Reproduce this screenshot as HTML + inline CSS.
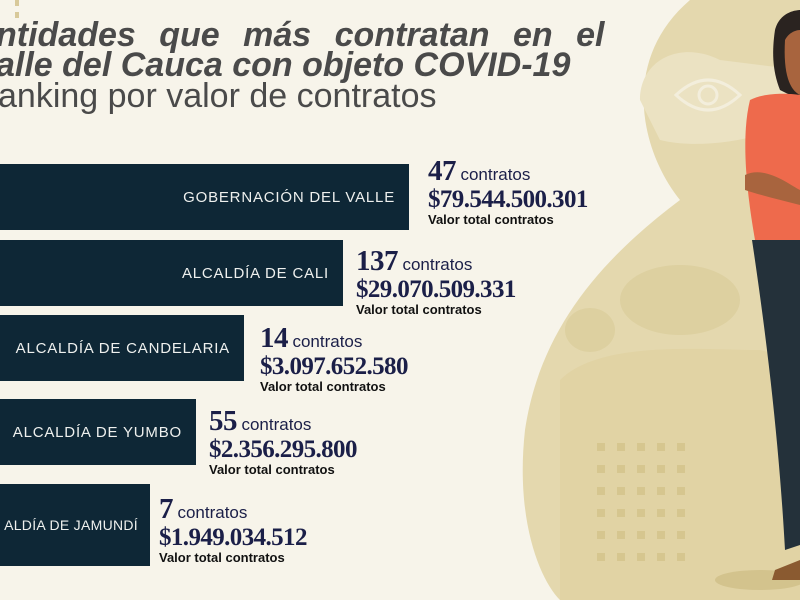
<!DOCTYPE html>
<html><head><meta charset="utf-8"><style>
body{margin:0;width:800px;height:600px;overflow:hidden;background:#f7f4ea;position:relative;font-family:"Liberation Sans",sans-serif}
.abs{position:absolute}
.bar{position:absolute;left:0;background:#0e2736;color:#eef0ee;font-size:15px;letter-spacing:0.8px;display:flex;align-items:center;justify-content:flex-end;padding-right:14px;box-sizing:border-box;white-space:nowrap}
.info{position:absolute;color:#1b1f48;line-height:1}
.n{font-family:"Liberation Serif",serif;font-weight:bold;font-size:29px;letter-spacing:-0.5px}
.c{font-size:17px;font-family:"Liberation Sans",sans-serif;font-weight:normal}
.v{font-family:"Liberation Serif",serif;font-weight:bold;font-size:25px;margin-top:1px;letter-spacing:-0.6px}
.t{font-size:13px;font-weight:bold;color:#111;margin-top:1px}
.title{position:absolute;left:-4px;color:#4a4a4a;font-style:italic;font-weight:bold;font-size:34px;white-space:nowrap;line-height:1}
</style></head><body>
<svg class="abs" style="left:0;top:0" width="800" height="600">
<path d="M690 0 C620 60 640 150 680 200 C600 260 540 330 525 430 C515 520 540 580 560 600 L800 600 L800 0 Z" fill="#e4d8ae"/>
<path d="M640 100 C640 60 680 40 720 60 L800 70 L800 120 C760 140 700 150 660 140 Z" fill="#ebe2c2"/>
<ellipse cx="680" cy="300" rx="60" ry="35" fill="#ddd0a0"/>
<ellipse cx="590" cy="330" rx="25" ry="22" fill="#ddd0a0"/>
<path d="M560 380 C600 340 700 350 760 350 L800 360 L800 600 L560 600 Z" fill="#e1d3a4"/>
<g fill="#d6c68f">
<rect x="597" y="443" width="8" height="8"/><rect x="617" y="443" width="8" height="8"/><rect x="637" y="443" width="8" height="8"/><rect x="657" y="443" width="8" height="8"/><rect x="677" y="443" width="8" height="8"/>
<rect x="597" y="465" width="8" height="8"/><rect x="617" y="465" width="8" height="8"/><rect x="637" y="465" width="8" height="8"/><rect x="657" y="465" width="8" height="8"/><rect x="677" y="465" width="8" height="8"/>
<rect x="597" y="487" width="8" height="8"/><rect x="617" y="487" width="8" height="8"/><rect x="637" y="487" width="8" height="8"/><rect x="657" y="487" width="8" height="8"/><rect x="677" y="487" width="8" height="8"/>
<rect x="597" y="509" width="8" height="8"/><rect x="617" y="509" width="8" height="8"/><rect x="637" y="509" width="8" height="8"/><rect x="657" y="509" width="8" height="8"/><rect x="677" y="509" width="8" height="8"/>
<rect x="597" y="531" width="8" height="8"/><rect x="617" y="531" width="8" height="8"/><rect x="637" y="531" width="8" height="8"/><rect x="657" y="531" width="8" height="8"/><rect x="677" y="531" width="8" height="8"/>
<rect x="597" y="553" width="8" height="8"/><rect x="617" y="553" width="8" height="8"/><rect x="637" y="553" width="8" height="8"/><rect x="657" y="553" width="8" height="8"/><rect x="677" y="553" width="8" height="8"/>
</g>
<ellipse cx="760" cy="580" rx="45" ry="10" fill="#d3c38d"/>
<g fill="none" stroke="#f3eedc" stroke-width="3"><path d="M676 95 Q708 65 740 95 Q708 125 676 95Z"/><circle cx="708" cy="95" r="9"/></g>
<path d="M775 30 C780 10 800 10 800 10 L800 100 L780 90 C772 70 772 50 775 30Z" fill="#2a2320"/>
<path d="M785 40 C790 30 800 30 800 30 L800 95 C790 90 783 75 785 40Z" fill="#a8643e"/>
<path d="M750 100 C770 90 800 95 800 95 L800 240 L755 240 C748 200 740 140 750 100Z" fill="#ee6a4c"/>
<path d="M745 175 C765 165 790 185 800 190 L800 205 C780 200 760 195 745 190Z" fill="#a8643e"/>
<path d="M752 240 L800 240 L800 545 L785 550 C780 460 770 360 752 240Z" fill="#24313a"/>
<path d="M775 570 L800 560 L800 580 L772 580Z" fill="#8a5a30"/>
<rect x="15" y="0" width="4" height="6" fill="#d8c99a"/><rect x="15" y="12" width="4" height="6" fill="#d8c99a"/>
</svg>
<div class="title" style="top:18px;word-spacing:14px">ntidades que más contratan en el</div>
<div class="title" style="top:48px">alle del Cauca con objeto COVID-19</div>
<div class="abs" style="left:-2px;top:79px;color:#4a4a4a;font-size:34px;white-space:nowrap;line-height:1">anking por valor de contratos</div>

<div class="bar" style="top:164px;width:409px;height:66px">GOBERNACIÓN DEL VALLE</div>
<div class="info" style="left:428px;top:157px"><span class="n">47</span> <span class="c">contratos</span><div class="v">$79.544.500.301</div><div class="t">Valor total contratos</div></div>

<div class="bar" style="top:240px;width:343px;height:66px">ALCALDÍA DE CALI</div>
<div class="info" style="left:356px;top:247px"><span class="n">137</span> <span class="c">contratos</span><div class="v">$29.070.509.331</div><div class="t">Valor total contratos</div></div>

<div class="bar" style="top:315px;width:244px;height:66px">ALCALDÍA DE CANDELARIA</div>
<div class="info" style="left:260px;top:324px"><span class="n">14</span> <span class="c">contratos</span><div class="v">$3.097.652.580</div><div class="t">Valor total contratos</div></div>

<div class="bar" style="top:399px;width:196px;height:66px">ALCALDÍA DE YUMBO</div>
<div class="info" style="left:209px;top:407px"><span class="n">55</span> <span class="c">contratos</span><div class="v">$2.356.295.800</div><div class="t">Valor total contratos</div></div>

<div class="bar" style="top:484px;width:150px;height:82px;font-size:14px;padding-right:12px;letter-spacing:0.3px">ALDÍA DE JAMUNDÍ</div>
<div class="info" style="left:159px;top:495px"><span class="n">7</span> <span class="c">contratos</span><div class="v">$1.949.034.512</div><div class="t">Valor total contratos</div></div>
</body></html>
